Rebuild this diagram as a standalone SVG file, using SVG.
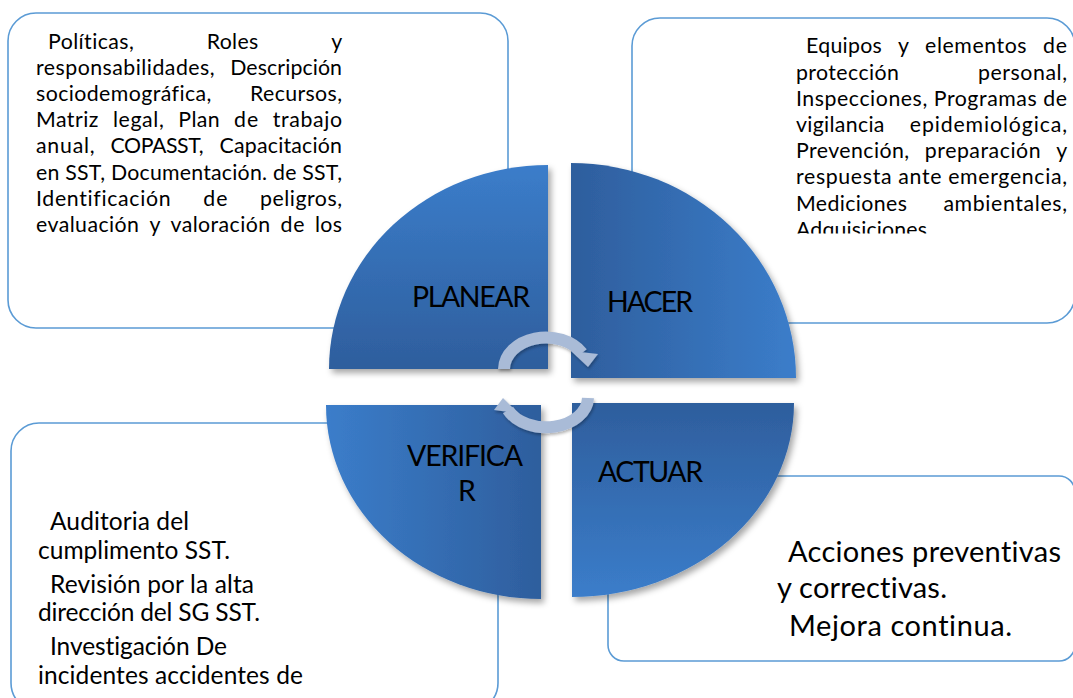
<svg xmlns="http://www.w3.org/2000/svg" width="1073" height="698" viewBox="0 0 1073 698">
<defs>
<style>
.box{fill:#fff;stroke:#5b9bd5;stroke-width:1.6}
.t{font-family:Lato,"Open Sans",sans-serif;fill:#000;font-variant-ligatures:none}
.s21{font-size:21.3px}
.s24{font-size:24.5px}
.s27{font-size:29px}
.lbl{font-family:Lato,"Open Sans",sans-serif;font-size:28.5px;fill:#000;font-variant-ligatures:none}
.arc{fill:none;stroke:#a9bbd7;stroke-width:12}
.head{fill:#a9bbd7}
</style>
<linearGradient id="gDown" x1="0" y1="0" x2="0" y2="1"><stop offset="0" stop-color="#3b7dca"/><stop offset="1" stop-color="#2e5e9d"/></linearGradient>
<linearGradient id="gUp" x1="0" y1="0" x2="0" y2="1"><stop offset="0" stop-color="#2e5e9d"/><stop offset="1" stop-color="#3b7dca"/></linearGradient>
<linearGradient id="gRight" x1="0" y1="0" x2="1" y2="0"><stop offset="0" stop-color="#2e5e9d"/><stop offset="1" stop-color="#3b7dca"/></linearGradient>
<linearGradient id="gLeft" x1="0" y1="0" x2="1" y2="0"><stop offset="0" stop-color="#3b7dca"/><stop offset="1" stop-color="#2e5e9d"/></linearGradient>
<filter id="sh" x="-10%" y="-10%" width="125%" height="125%"><feDropShadow dx="3" dy="4" stdDeviation="3" flood-color="#000" flood-opacity="0.35"/></filter>
<filter id="sh2" x="-20%" y="-20%" width="140%" height="140%"><feDropShadow dx="1" dy="2" stdDeviation="1.5" flood-color="#000" flood-opacity="0.3"/></filter>
<clipPath id="clipTR"><rect x="780" y="20" width="300" height="213.5"/></clipPath>
</defs>

<g id="box-planear">
<rect class="box" x="8" y="13" width="500" height="315" rx="28"/>
<text class="t s21" x="48" y="48.5" textLength="85.8" lengthAdjust="spacing">Políticas,</text>
<text class="t s21" x="206.7" y="48.5" textLength="51.6" lengthAdjust="spacing">Roles</text>
<text class="t s21" x="331.3" y="48.5" textLength="10.7" lengthAdjust="spacing">y</text>
<text class="t s21" x="36" y="74.7" textLength="178.6" lengthAdjust="spacing">responsabilidades,</text>
<text class="t s21" x="230.2" y="74.7" textLength="111.8" lengthAdjust="spacing">Descripción</text>
<text class="t s21" x="36" y="100.9" textLength="175.4" lengthAdjust="spacing">sociodemográfica,</text>
<text class="t s21" x="250" y="100.9" textLength="92" lengthAdjust="spacing">Recursos,</text>
<text class="t s21" x="36" y="127.1" textLength="62.4" lengthAdjust="spacing">Matriz</text>
<text class="t s21" x="112.9" y="127.1" textLength="50.9" lengthAdjust="spacing">legal,</text>
<text class="t s21" x="178.3" y="127.1" textLength="41.3" lengthAdjust="spacing">Plan</text>
<text class="t s21" x="234.1" y="127.1" textLength="24.1" lengthAdjust="spacing">de</text>
<text class="t s21" x="272.8" y="127.1" textLength="69.2" lengthAdjust="spacing">trabajo</text>
<text class="t s21" x="36" y="153.3" textLength="58.7" lengthAdjust="spacing">anual,</text>
<text class="t s21" x="110.6" y="153.3" textLength="93.1" lengthAdjust="spacing">COPASST,</text>
<text class="t s21" x="219.6" y="153.3" textLength="122.4" lengthAdjust="spacing">Capacitación</text>
<text class="t s21" x="36" y="179.5" textLength="306" lengthAdjust="spacing">en SST, Documentación. de SST,</text>
<text class="t s21" x="36" y="205.7" textLength="134.6" lengthAdjust="spacing">Identificación</text>
<text class="t s21" x="203.3" y="205.7" textLength="24.1" lengthAdjust="spacing">de</text>
<text class="t s21" x="260.1" y="205.7" textLength="81.9" lengthAdjust="spacing">peligros,</text>
<text class="t s21" x="36" y="231.9" textLength="103" lengthAdjust="spacing">evaluación</text>
<text class="t s21" x="149.4" y="231.9" textLength="10.7" lengthAdjust="spacing">y</text>
<text class="t s21" x="170.5" y="231.9" textLength="99.6" lengthAdjust="spacing">valoración</text>
<text class="t s21" x="280.5" y="231.9" textLength="24.1" lengthAdjust="spacing">de</text>
<text class="t s21" x="315" y="231.9" textLength="27" lengthAdjust="spacing">los</text>
</g>

<g id="box-hacer">
<rect class="box" x="632" y="18" width="443" height="305" rx="28"/>
<g clip-path="url(#clipTR)">
<text class="t s21" x="806" y="53.3" textLength="75.8" lengthAdjust="spacing">Equipos</text>
<text class="t s21" x="898.1" y="53.3" textLength="10.7" lengthAdjust="spacing">y</text>
<text class="t s21" x="925.1" y="53.3" textLength="101.5" lengthAdjust="spacing">elementos</text>
<text class="t s21" x="1042.9" y="53.3" textLength="24.1" lengthAdjust="spacing">de</text>
<text class="t s21" x="796" y="79.5" textLength="102.9" lengthAdjust="spacing">protección</text>
<text class="t s21" x="978" y="79.5" textLength="89" lengthAdjust="spacing">personal,</text>
<text class="t s21" x="796" y="105.7" textLength="271" lengthAdjust="spacing">Inspecciones, Programas de</text>
<text class="t s21" x="796" y="131.9" textLength="88.4" lengthAdjust="spacing">vigilancia</text>
<text class="t s21" x="909.8" y="131.9" textLength="157.2" lengthAdjust="spacing">epidemiológica,</text>
<text class="t s21" x="796" y="158.1" textLength="113.1" lengthAdjust="spacing">Prevención,</text>
<text class="t s21" x="924.8" y="158.1" textLength="115.8" lengthAdjust="spacing">preparación</text>
<text class="t s21" x="1056.3" y="158.1" textLength="10.7" lengthAdjust="spacing">y</text>
<text class="t s21" x="796" y="184.3" textLength="271" lengthAdjust="spacing">respuesta ante emergencia,</text>
<text class="t s21" x="796" y="210.5" textLength="110.9" lengthAdjust="spacing">Mediciones</text>
<text class="t s21" x="943.4" y="210.5" textLength="123.6" lengthAdjust="spacing">ambientales,</text>
<text class="t s21" x="796" y="236.7" textLength="130.9" lengthAdjust="spacing">Adquisiciones</text>
</g>
</g>

<g id="box-verificar">
<rect class="box" x="11" y="423" width="487" height="288" rx="28"/>
<text class="t s24" x="50" y="530" textLength="139" lengthAdjust="spacing">Auditoria del</text>
<text class="t s24" x="38" y="559" textLength="192" lengthAdjust="spacing">cumplimento SST.</text>
<text class="t s24" x="50" y="593" textLength="204" lengthAdjust="spacing">Revisión por la alta</text>
<text class="t s24" x="38" y="621" textLength="222" lengthAdjust="spacing">dirección del SG SST.</text>
<text class="t s24" x="50" y="655" textLength="177" lengthAdjust="spacing">Investigación De</text>
<text class="t s24" x="38" y="684" textLength="265" lengthAdjust="spacing">incidentes accidentes de</text>
</g>

<g id="box-actuar">
<rect class="box" x="608" y="476" width="467" height="185" rx="16"/>
<text class="t s27" x="788" y="562" textLength="273" lengthAdjust="spacing">Acciones preventivas</text>
<text class="t s27" x="777" y="598" textLength="170" lengthAdjust="spacing">y correctivas.</text>
<text class="t s27" x="789" y="636" textLength="223" lengthAdjust="spacing">Mejora continua.</text>
</g>

<g id="q-planear">
<path d="M548,369 L329,369 A219,204 0 0 1 548,165 Z" fill="url(#gDown)" filter="url(#sh)"/>
<text class="lbl" x="412" y="307" textLength="118" lengthAdjust="spacing">PLANEAR</text>
</g>
<g id="q-hacer">
<path d="M571,378 L571,163 A225,215 0 0 1 796,378 Z" fill="url(#gRight)" filter="url(#sh)"/>
<text class="lbl" x="607" y="312" textLength="86" lengthAdjust="spacing">HACER</text>
</g>
<g id="q-verificar">
<path d="M541,405 L541,599 A215,194 0 0 1 326,405 Z" fill="url(#gLeft)" filter="url(#sh)"/>
<text class="lbl" x="407" y="466" textLength="116" lengthAdjust="spacing">VERIFICA</text>
<text class="lbl" x="458" y="501">R</text>
</g>
<g id="q-actuar">
<path d="M572,403 L794,403 A222,194 0 0 1 572,597 Z" fill="url(#gUp)" filter="url(#sh)"/>
<text class="lbl" x="598" y="482" textLength="105" lengthAdjust="spacing">ACTUAR</text>
</g>

<g id="connectors" filter="url(#sh2)">
<path class="arc" d="M504,369 A42,32 0 0 1 582,353"/>
<polygon class="head" points="571,351 598,354 588,367"/>
<path class="arc" d="M588,398 A42,30 0 0 1 508,410"/>
<polygon class="head" points="503,398 494,410 518,413"/>
</g>
</svg>
